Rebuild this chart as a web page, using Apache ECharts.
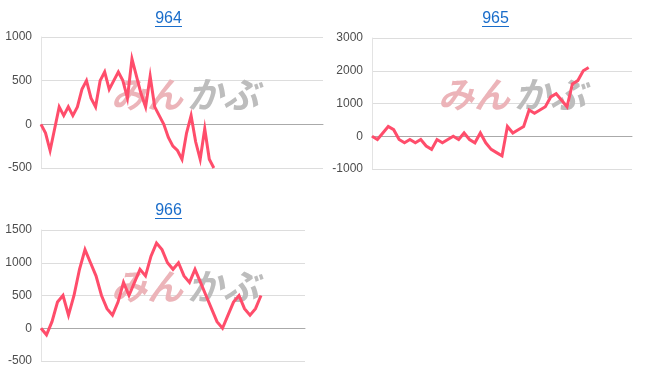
<!DOCTYPE html>
<html>
<head>
<meta charset="utf-8">
<script src="https://cdn.jsdelivr.net/npm/echarts@6/dist/echarts.min.js"></script>
<style>
html,body{margin:0;padding:0;background:#fff;}
#c{width:652px;height:382px;}
</style>
</head>
<body>
<div id="c"></div>
<script>
// ---- data ----
const titles = ['964', '965', '966'];
const categoryCount964 = 63;
const categoryCount965 = 49;
const categoryCount966 = 49;
const values964 = [0, -100, -300, -50, 200, 100, 200, 100, 200, 400, 500, 300, 200, 500, 600, 400, 500, 600, 500, 300,
  750, 550, 350, 200, 550, 200, 100, 0, -150, -250, -300, -400, -100, 100, -200, -400, -50, -400, -500];
const values965 = [0, -100, 100, 300, 200, -100, -200, -100, -200, -100, -300, -400, -100, -200, -100, 0, -100, 100, -100, -200,
  100, -200, -400, -500, -600, 300, 100, 200, 300, 800, 700, 800, 900, 1200, 1300, 1100, 900, 1600, 1700, 2000, 2100];
const values966 = [0, -100, 100, 400, 500, 200, 500, 900, 1200, 1000, 800, 500, 300, 200, 400, 700, 500, 700, 900, 800,
  1100, 1300, 1200, 1000, 900, 1000, 800, 700, 900, 700, 500, 300, 100, 0, 200, 400, 500, 300, 200, 300, 500];
const yTicks964 = [-500, 0, 500, 1000];
const yTicks965 = [-1000, 0, 1000, 2000, 3000];
const yTicks966 = [-500, 0, 500, 1000, 1500];

function cats(n) { const a = []; for (let i = 0; i < n; i++) a.push(String(i + 1)); return a; }

const grids = [
  {left: 41, right: 329, top: 37, height: 131},
  {left: 372, right: 20, top: 38, height: 131},
  {left: 41, right: 347, top: 230, height: 131}
];
const tickSets = [yTicks964, yTicks965, yTicks966];
const dataSets = [values964, values965, values966];
const catCounts = [categoryCount964, categoryCount965, categoryCount966];
const titlePos = [{x: 168.5, y: 11}, {x: 495.5, y: 11}, {x: 168.5, y: 202.5}];
const wmPos = [{x: 185, y: 94}, {x: 512, y: 94}, {x: 185, y: 286}];

const LINE = '#ff4d6b';
const option = {
  animation: false,
  backgroundColor: '#fff',
  title: titles.map((t, i) => ({
    text: t, left: titlePos[i].x, top: titlePos[i].y, textAlign: 'center', padding: 0,
    textStyle: {fontFamily: 'Liberation Sans, Arial, sans-serif', fontSize: 16, fontWeight: 'normal', color: '#1a6dca'}
  })),
  grid: grids,
  xAxis: grids.map((g, i) => ({
    type: 'category', gridIndex: i, data: cats(catCounts[i]), boundaryGap: false,
    axisLine: {show: true, onZero: true, lineStyle: {color: '#aaaaaa', width: 1}},
    axisTick: {show: false}, axisLabel: {show: false}, splitLine: {show: false}
  })),
  yAxis: grids.map((g, i) => {
    const t = tickSets[i];
    return {
      type: 'value', gridIndex: i, min: t[0], max: t[t.length - 1], interval: t[1] - t[0],
      axisLine: {show: true, lineStyle: {color: '#e3e3e3'}},
      axisTick: {show: false},
      axisLabel: {color: '#4d4d4d', fontSize: 12, margin: 9, fontFamily: 'Liberation Sans, Arial, sans-serif',
        formatter: v => String(v)},
      splitLine: {show: true, lineStyle: {color: '#dddddd', width: 1}}
    };
  }),
  series: dataSets.map((d, i) => ({
    type: 'line', xAxisIndex: i, yAxisIndex: i, data: d, showSymbol: false, symbol: 'none', z: 5,
    lineStyle: {color: LINE, width: 3, join: 'miter'}, itemStyle: {color: LINE}
  })),
  graphic: []
};

// title underlines
const underline = [{x1: 155, x2: 182, y: 26}, {x1: 482, x2: 509, y: 26}, {x1: 155, x2: 182, y: 218}];
underline.forEach(u => option.graphic.push({type: 'line', z: 10, shape: {x1: u.x1, y1: u.y + 0.5, x2: u.x2, y2: u.y + 0.5}, style: {stroke: '#1a6dca', lineWidth: 1}}));

// watermark
wmPos.forEach(p => {
  option.graphic.push({
    type: 'text', z: 1, x: p.x - 2, y: p.y, silent: true,
    style: {text: 'みん', fill: '#ecb4b9', font: 'italic bold 36px "Noto Sans CJK JP"', textAlign: 'right', textVerticalAlign: 'middle'}
  });
  option.graphic.push({
    type: 'text', z: 1, x: p.x + 2, y: p.y, silent: true,
    style: {text: 'かぶ', fill: '#bdbdbd', font: 'italic bold 36px "Noto Sans CJK JP"', textAlign: 'left', textVerticalAlign: 'middle'}
  });
});

const chart = echarts.init(document.getElementById('c'), null, {renderer: 'canvas'});
chart.setOption(option);
</script>
</body>
</html>
